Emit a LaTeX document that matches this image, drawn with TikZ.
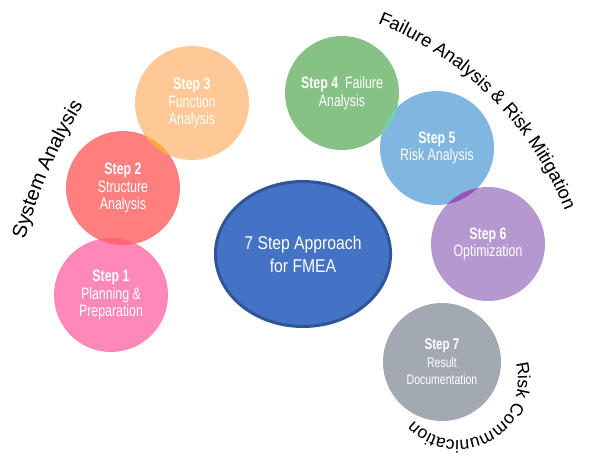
\documentclass[tikz,border=0pt]{standalone}
\usepackage{fontspec}
\setmainfont{Liberation Sans}
\newfontfamily\narrowsf[FakeStretch=0.75]{Liberation Sans}
\newfontfamily\coresf[FakeStretch=0.85]{Liberation Sans}
\usetikzlibrary{shapes.geometric, decorations.text}

\definecolor{planpink}{HTML}{FF88B8}
\definecolor{structred}{HTML}{FF7F7F}
\definecolor{funcorange}{HTML}{FFC896}
\definecolor{failgreen}{HTML}{86C286}
\definecolor{riskblue}{HTML}{80B6E0}
\definecolor{optipurple}{HTML}{B698D0}
\definecolor{docgray}{HTML}{A2A9B3}
\definecolor{corefill}{HTML}{4472C4}
\definecolor{coreedge}{HTML}{2F5597}
\definecolor{lapone}{HTML}{FF6676}
\definecolor{laptwo}{HTML}{FFA63E}
\definecolor{lapthree}{HTML}{78D2A8}
\definecolor{lapfour}{HTML}{9256BA}

\newcommand\sysfont{\fontsize{20}{22}\selectfont}
\newcommand\failfont{\fontsize{18.4}{20}\selectfont}
\newcommand\commfont{\fontsize{17.5}{19}\selectfont}
\newcommand\smallstep{\fontsize{14}{15.5}\selectfont}

\tikzset{
  stepnode/.style={circle, minimum size=114pt, inner sep=0pt, align=center,
    text=white, font=\narrowsf\fontsize{16.5}{17.5}\selectfont},
  corenode/.style={ellipse, draw=coreedge, line width=3pt, fill=corefill,
    minimum width=173pt, minimum height=145pt, align=center, text=white,
    font=\coresf\fontsize{18.5}{23}\selectfont}
}

\begin{document}
\begin{tikzpicture}[x=1pt, y=1pt]
    \useasboundingbox (0,0) rectangle (601,-469);

    \node[corenode] (core) at (303,-254) {7 Step Approach\\for FMEA};

    \node[stepnode, fill=planpink] (st1) at (111,-295) {\textbf{Step 1}\\Planning \&\\Preparation};
    \node[stepnode, fill=structred] (st2) at (123,-188) {\textbf{Step 2}\\Structure\\Analysis};
    \node[stepnode, fill=funcorange] (st3) at (192,-103) {\textbf{Step 3}\\Function\\Analysis};
    \node[stepnode, fill=failgreen] (st4) at (342,-93) {\textbf{Step 4}\ \ Failure\\Analysis};
    \node[stepnode, fill=riskblue] (st5) at (437,-148) {\textbf{Step 5}\\Risk Analysis};
    \node[stepnode, fill=optipurple] (st6) at (488,-244) {\textbf{Step 6}\\Optimization};
    \node[stepnode, fill=docgray, minimum size=118pt] (st7) at (442,-362)
        {{\fontsize{15.5}{15.5}\selectfont\textbf{Step 7}}\\{\smallstep Result}\\{\smallstep Documentation}};

    % overlaps of neighbouring circles
    \foreach \a/\b/\col in {st1/st2/lapone, st2/st3/laptwo, st4/st5/lapthree, st5/st6/lapfour} {
        \begin{scope}
            \clip (\a.center) circle[radius=57pt];
            \fill[\col] (\b.center) circle[radius=57pt];
        \end{scope}
    }

    % curved headings, grey shadow first
    \coordinate (sysc) at (508,-369);
    \coordinate (failc) at (251,-337);
    \coordinate (commc) at (458,-380);
    \foreach \d/\col in {1.6/gray!40, 0/black} {
        \path[xshift=\d pt, yshift=-\d pt, decorate,
              decoration={text along path, text color=\col, text={|\sysfont|System Analysis}}]
            ([shift={(165:500pt)}]sysc) arc[start angle=165, end angle=145, radius=500pt];
        \path[xshift=\d pt, yshift=-\d pt, decorate,
              decoration={text along path, text color=\col, text={|\failfont|Failure Analysis {\&} Risk Mitigation}}]
            ([shift={(68:338.6pt)}]failc) arc[start angle=68, end angle=17, radius=338.6pt];
        \path[xshift=\d pt, yshift=-\d pt, decorate,
              decoration={text along path, text color=\col, text={|\commfont|Risk Communication}}]
            ([shift={(16:60pt)}]commc) arc[start angle=16, end angle=-160, radius=60pt];
    }
\end{tikzpicture}
\end{document}
